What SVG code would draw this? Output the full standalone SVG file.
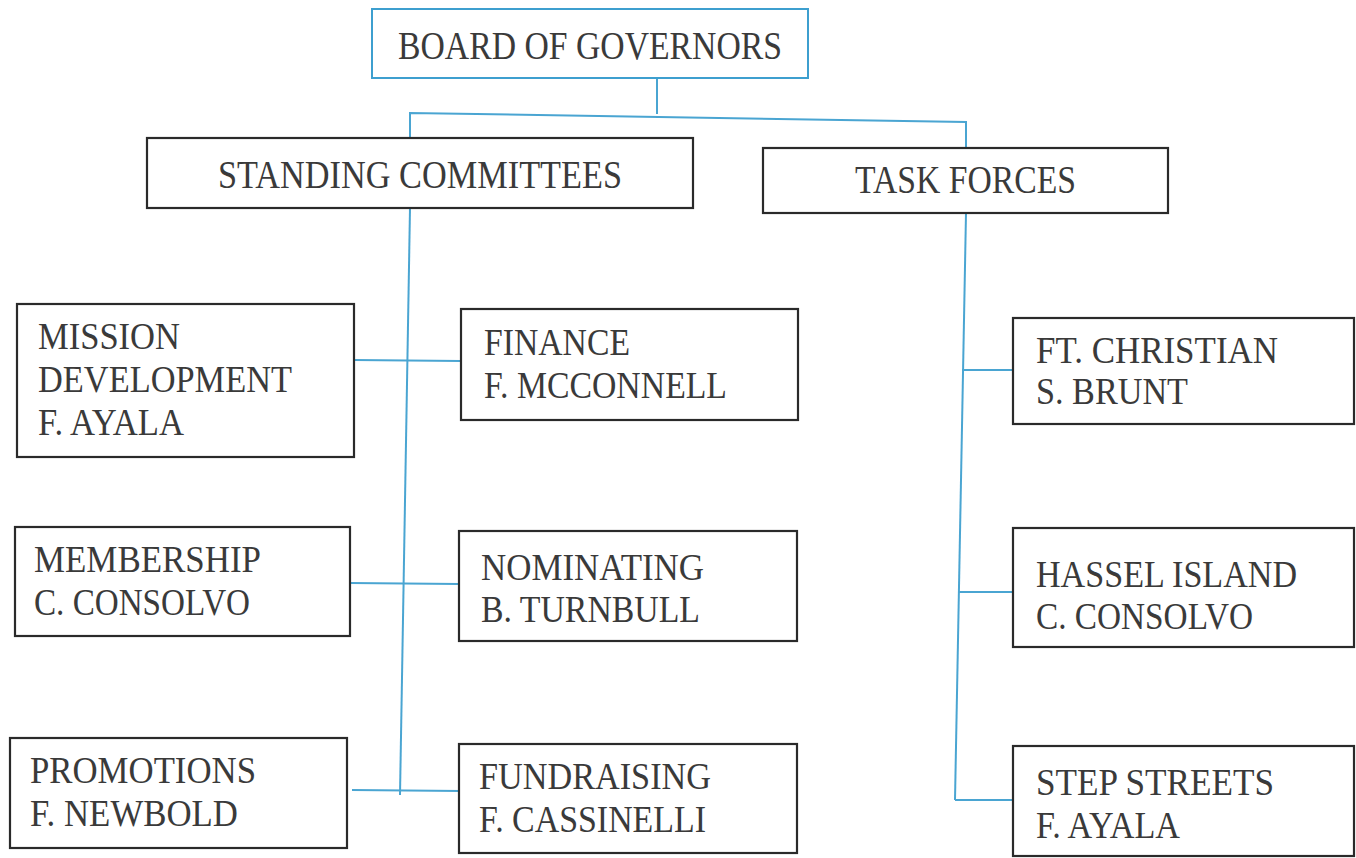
<svg xmlns="http://www.w3.org/2000/svg" width="1356" height="858" viewBox="0 0 1356 858">
<style>
.box{fill:#fff;stroke:#2a2a2a;stroke-width:2.2}
.bbox{fill:#fff;stroke:#3d9fcf;stroke-width:2}
.t{font-family:"Liberation Serif","DejaVu Serif",serif;font-size:37px;fill:#3a3a3a}
.h{font-size:39px}
.c{fill:none;stroke:#4aa5d2;stroke-width:2}
</style>
<rect width="1356" height="858" fill="#fff"/>
<g id="connectors">
<polyline class="c" points="657,78 657,114"/>
<polyline class="c" points="410,138 410,113 966,122 966,150"/>
<polyline class="c" points="410,208 400,795"/>
<line class="c" x1="354" y1="360" x2="461" y2="361"/>
<line class="c" x1="350" y1="583" x2="459" y2="584"/>
<line class="c" x1="352" y1="790" x2="461" y2="791"/>
<polyline class="c" points="966,213 955,800"/>
<line class="c" x1="962" y1="370" x2="1013" y2="370"/>
<line class="c" x1="958" y1="592" x2="1013" y2="592"/>
<line class="c" x1="955" y1="800" x2="1013" y2="800"/>
</g>
<g id="board">
<rect class="bbox" x="372" y="9" width="436" height="69"/>
<text class="t h" x="398" y="59" textLength="384" lengthAdjust="spacingAndGlyphs">BOARD OF GOVERNORS</text>
</g>
<g id="standing">
<rect class="box" x="147" y="138" width="546" height="70"/>
<text class="t h" x="218" y="188" textLength="404" lengthAdjust="spacingAndGlyphs">STANDING COMMITTEES</text>
</g>
<g id="taskforces">
<rect class="box" x="763" y="148" width="405" height="65"/>
<text class="t h" x="855" y="193" textLength="221" lengthAdjust="spacingAndGlyphs">TASK FORCES</text>
</g>
<g id="mission">
<rect class="box" x="17" y="304" width="337" height="153"/>
<text class="t" x="38" y="349" textLength="142" lengthAdjust="spacingAndGlyphs">MISSION</text>
<text class="t" x="38" y="392" textLength="254" lengthAdjust="spacingAndGlyphs">DEVELOPMENT</text>
<text class="t" x="38" y="435" textLength="146" lengthAdjust="spacingAndGlyphs">F. AYALA</text>
</g>
<g id="finance">
<rect class="box" x="461" y="309" width="337" height="111"/>
<text class="t" x="484" y="355" textLength="146" lengthAdjust="spacingAndGlyphs">FINANCE</text>
<text class="t" x="484" y="398" textLength="243" lengthAdjust="spacingAndGlyphs">F. MCCONNELL</text>
</g>
<g id="membership">
<rect class="box" x="15" y="527" width="335" height="109"/>
<text class="t" x="34" y="572" textLength="227" lengthAdjust="spacingAndGlyphs">MEMBERSHIP</text>
<text class="t" x="34" y="615" textLength="216" lengthAdjust="spacingAndGlyphs">C. CONSOLVO</text>
</g>
<g id="nominating">
<rect class="box" x="459" y="531" width="338" height="110"/>
<text class="t" x="481" y="580" textLength="223" lengthAdjust="spacingAndGlyphs">NOMINATING</text>
<text class="t" x="481" y="622" textLength="219" lengthAdjust="spacingAndGlyphs">B. TURNBULL</text>
</g>
<g id="promotions">
<rect class="box" x="10" y="738" width="337" height="110"/>
<text class="t" x="30" y="783" textLength="226" lengthAdjust="spacingAndGlyphs">PROMOTIONS</text>
<text class="t" x="30" y="826" textLength="208" lengthAdjust="spacingAndGlyphs">F. NEWBOLD</text>
</g>
<g id="fundraising">
<rect class="box" x="459" y="744" width="338" height="109"/>
<text class="t" x="479" y="789" textLength="232" lengthAdjust="spacingAndGlyphs">FUNDRAISING</text>
<text class="t" x="479" y="832" textLength="227" lengthAdjust="spacingAndGlyphs">F. CASSINELLI</text>
</g>
<g id="ftchristian">
<rect class="box" x="1013" y="318" width="341" height="106"/>
<text class="t" x="1036" y="363" textLength="242" lengthAdjust="spacingAndGlyphs">FT. CHRISTIAN</text>
<text class="t" x="1036" y="404" textLength="152" lengthAdjust="spacingAndGlyphs">S. BRUNT</text>
</g>
<g id="hassel">
<rect class="box" x="1013" y="528" width="341" height="119"/>
<text class="t" x="1036" y="587" textLength="261" lengthAdjust="spacingAndGlyphs">HASSEL ISLAND</text>
<text class="t" x="1036" y="629" textLength="217" lengthAdjust="spacingAndGlyphs">C. CONSOLVO</text>
</g>
<g id="stepstreets">
<rect class="box" x="1013" y="746" width="341" height="110"/>
<text class="t" x="1036" y="795" textLength="238" lengthAdjust="spacingAndGlyphs">STEP STREETS</text>
<text class="t" x="1036" y="838" textLength="144" lengthAdjust="spacingAndGlyphs">F. AYALA</text>
</g>
</svg>
